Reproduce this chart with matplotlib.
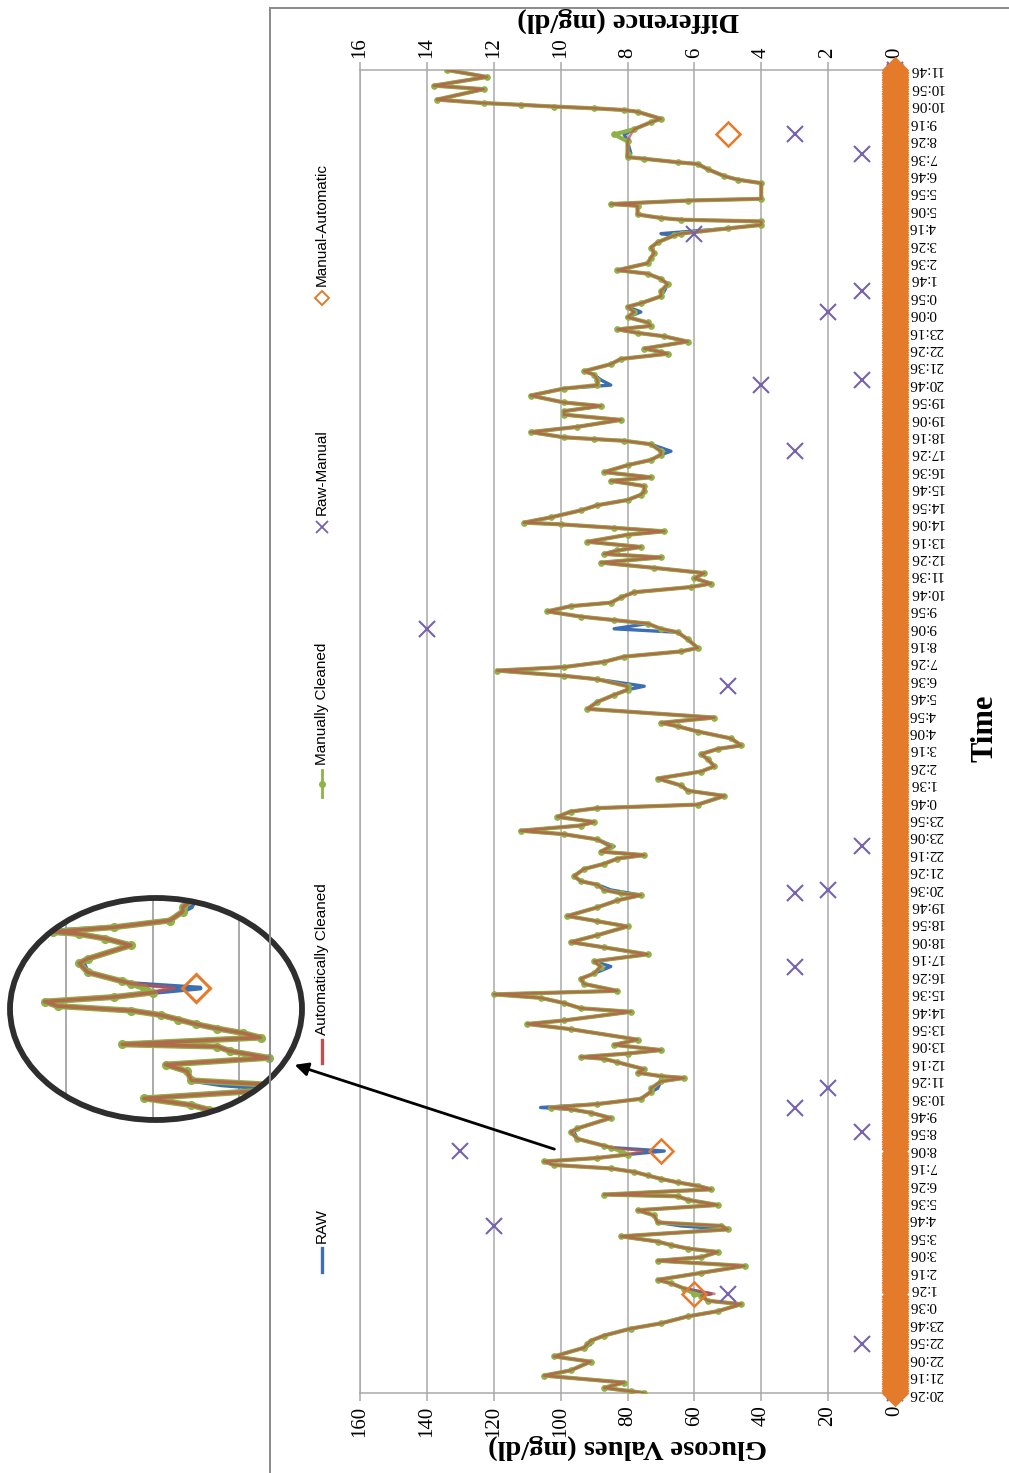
import numpy as np
import matplotlib
matplotlib.use("Agg")
import matplotlib.pyplot as plt
from matplotlib.lines import Line2D
from matplotlib.patches import Ellipse, FancyArrowPatch
from datetime import datetime, timedelta

plt.rcParams['font.family'] = ['Liberation Serif', 'DejaVu Serif']

# ---------------------------------------------------------------------------
# CGM recording (minutes after the first reading at 20:26)
START_CLOCK = (20, 26)
minutes = [
    0, 5, 15, 30, 50, 65, 90, 105, 130, 140, 150, 165, 185, 200, 220, 235,
    255, 265, 280, 285, 300, 315, 325, 345, 365, 380, 390, 405, 415, 425,
    435, 450, 470, 480, 490, 510, 525, 540, 555, 565, 570, 585, 595, 605,
    615, 625, 635, 645, 655, 665, 675, 685, 695, 705, 710, 730, 750, 760,
    790, 805, 815, 820, 830, 845, 865, 875, 895, 905, 910, 920, 930, 950,
    960, 965, 975, 985, 1000, 1015, 1045, 1060, 1070, 1095, 1105, 1120,
    1135, 1145, 1155, 1175, 1190, 1205, 1225, 1240, 1260, 1280, 1295, 1315,
    1340, 1355, 1370, 1395, 1415, 1430, 1435, 1445, 1460, 1470, 1485, 1505,
    1520, 1535, 1545, 1555, 1570, 1590, 1605, 1615, 1630, 1640, 1655, 1670,
    1680, 1690, 1715, 1730, 1745, 1765, 1785, 1800, 1820, 1835, 1850, 1860,
    1880, 1900, 1915, 1925, 1940, 1965, 1985, 2005, 2020, 2030, 2050, 2060,
    2075, 2085, 2100, 2115, 2130, 2140, 2165, 2185, 2195, 2210, 2220, 2230,
    2245, 2260, 2270, 2285, 2300, 2315, 2325, 2340, 2355, 2370, 2385, 2400,
    2410, 2420, 2430, 2445, 2465, 2475, 2485, 2495, 2500, 2515, 2535, 2550,
    2565, 2580, 2590, 2605, 2620, 2630, 2645, 2665, 2680, 2695, 2705, 2725,
    2735, 2740, 2745, 2760, 2775, 2795, 2810, 2820, 2835, 2845, 2865, 2885,
    2895, 2910, 2925, 2935, 2955, 2970, 2985, 2990, 3000, 3020, 3035, 3045,
    3055, 3065, 3075, 3090, 3105, 3120, 3130, 3150, 3165, 3185, 3200, 3215,
    3225, 3245, 3260, 3275, 3290, 3305, 3325, 3330, 3345, 3355, 3365, 3370,
    3375, 3385, 3410, 3415, 3425, 3430, 3475, 3485, 3495, 3515, 3530, 3535,
    3545, 3550, 3560, 3595, 3615, 3630, 3650, 3660, 3680, 3685, 3690, 3695,
    3700, 3705, 3715, 3745, 3755, 3780, 3800,
]
manually_cleaned = [
    75, 79, 87, 81, 105, 97, 91, 102, 93, 92, 91, 87, 79, 70, 62, 53,
    46, 56, 58, 60, 63, 67, 71, 58, 45, 71, 58, 53, 62, 67,
    71, 82, 50, 52, 71, 72, 77, 53, 62, 65, 87, 55, 59, 65,
    70, 74, 78, 85, 102, 105, 89, 80, 82, 85, 87, 95, 97, 95,
    85, 91, 97, 103, 89, 76, 73, 73, 70, 63, 70, 77, 75, 83,
    87, 94, 80, 70, 84, 77, 97, 110, 99, 79, 94, 99,
    106, 120, 83, 93, 94, 90, 88, 90, 74, 87, 97, 89,
    80, 89, 98, 89, 83, 76, 82, 87, 89, 94, 96, 93,
    87, 83, 75, 88, 85, 89, 99, 112, 94, 90, 101, 97,
    89, 59, 51, 62, 64, 71, 58, 54, 56, 58, 53, 46,
    49, 59, 65, 70, 54, 92, 89, 84, 80, 80, 89, 99,
    119, 99, 87, 81, 64, 59, 62, 65, 70, 74, 84, 94,
    104, 97, 85, 82, 78, 61, 55, 60, 57, 72, 88, 70,
    87, 83, 76, 92, 80, 69, 84, 100, 111, 103, 94, 89,
    80, 76, 75, 75, 85, 73, 87, 80, 73, 70, 70, 73,
    81, 90, 99, 109, 95, 82, 99, 99, 88, 99, 109, 99,
    89, 89, 90, 93, 85, 82, 68, 70, 75, 62, 69, 77,
    83, 73, 74, 80, 78, 80, 76, 70, 70, 68, 70, 74,
    83, 74, 73, 72, 73, 71, 66, 64, 50, 40, 40, 64,
    70, 77, 77, 85, 62, 40, 40, 47, 51, 56, 59, 65,
    75, 80, 80, 80, 84, 78, 73, 70, 77, 81, 90, 102,
    112, 123, 137, 123, 138, 122, 134,
]

# readings where the raw sensor value differs from the manual cleaning (raw - manual)
raw_offset_minutes = [140, 285, 480, 695, 750, 820, 875, 1225, 1435, 1445, 1570,
                      2030, 2195, 2705, 2895, 2910, 3105, 3165, 3330, 3560, 3615]
raw_offset_values = [-1, -5, 12, -13, -1, 3, -2, -3, -3, -2, -1,
                     -5, 14, -3, -4, -1, -2, -1, 6, -1, -3]

# readings where the automatic cleaning differs from the manual one (manual - automatic)
auto_offset_minutes = [285, 695, 3615]
auto_offset_values = [6, 7, 5]

SAMPLE_STEP = 5          # sensor reading interval, minutes
LABEL_STEP = 50          # spacing of the time labels, minutes

# ---------------------------------------------------------------------------
t = np.array(minutes, dtype=float)
manual = np.array(manually_cleaned, dtype=float)
assert len(t) == len(manual)

raw = manual.copy()
for m, v in zip(raw_offset_minutes, raw_offset_values):
    raw[t == m] += v
auto = manual.copy()
for m, v in zip(auto_offset_minutes, auto_offset_values):
    auto[t == m] -= v

samples = np.arange(0, t[-1] + 1, SAMPLE_STEP)
raw_manual_diff = np.zeros(len(samples))
for m, v in zip(raw_offset_minutes, raw_offset_values):
    raw_manual_diff[samples == m] = abs(v)
manual_auto_diff = np.zeros(len(samples))
for m, v in zip(auto_offset_minutes, auto_offset_values):
    manual_auto_diff[samples == m] = abs(v)

start = datetime(2000, 1, 1, *START_CLOCK)
tick_minutes = np.arange(0, t[-1] + 1, LABEL_STEP)
tick_labels = []
for m in tick_minutes:
    d = start + timedelta(minutes=int(m))
    tick_labels.append(f"{d.hour}:{d.minute:02d}")

# ---------------------------------------------------------------------------
C_RAW = '#3d6db3'
C_AUTO = '#c0504d'
C_MAN = '#8db346'
C_RM = '#7662ad'
C_MA = '#e37b2b'
C_GRID = '#a9a9a9'

W, H = 1009, 1473
fig = plt.figure(figsize=(W / 100, H / 100), dpi=100)


def fx(x):
    return x / W


def fy(y):
    return 1 - y / H


ax = fig.add_axes([fx(360), fy(1393), fx(895) - fx(360), fy(70) - fy(1393)])


def draw_series(a, scale=1.0):
    a.plot(raw, t, color=C_RAW, lw=2.4 * scale, zorder=2, solid_joinstyle='round')
    a.plot(manual, t, color=C_MAN, lw=3.0 * scale, marker='o', ms=3.8 * scale,
           zorder=3, solid_joinstyle='round')
    a.plot(auto, t, color=C_AUTO, lw=1.8 * scale, alpha=0.72, zorder=4,
           solid_joinstyle='round')


draw_series(ax)
ax.set_xlim(160, 0)
ax.set_ylim(0, t[-1])
ax.set_xticks(np.arange(0, 161, 20))
ax.xaxis.grid(True, color=C_GRID, lw=1.1)
ax.set_axisbelow(True)
ax.tick_params(axis='x', direction='out', length=6, color=C_GRID, width=1.1,
               labelsize=15, labelrotation=90, pad=3)
ax.yaxis.tick_right()
ax.set_yticks(tick_minutes)
ax.set_yticklabels(tick_labels)
ax.tick_params(axis='y', length=0, pad=10, labelsize=11)
for lab in ax.get_yticklabels():
    lab.set_rotation(180)
    lab.set_va('center')
for s in ax.spines.values():
    s.set_color(C_GRID)
    s.set_linewidth(1.1)

# differences on the secondary axis
ax2 = ax.twiny()
ax2.set_xlim(16, 0)
ax2.set_xticks(np.arange(0, 17, 2))
ax2.tick_params(axis='x', direction='out', length=6, color=C_GRID, width=1.1,
                labelsize=15, labelrotation=90, pad=3)
for s in ax2.spines.values():
    s.set_visible(False)
ax2.plot(raw_manual_diff, samples, ls='none', marker='x', color=C_RM, ms=11,
         mew=1.5, clip_on=False, zorder=5)
# the dense run of zero differences merges into a solid band
zero = manual_auto_diff == 0
ax2.plot(manual_auto_diff[zero], samples[zero], ls='none', marker='D', mfc=C_MA,
         mec=C_MA, ms=12, mew=1.8, clip_on=False, zorder=6)
ax2.plot(manual_auto_diff[~zero], samples[~zero], ls='none', marker='D', mfc='none',
         mec=C_MA, ms=12, mew=1.8, clip_on=False, zorder=6)

# axis titles
fig.text(fx(628), fy(1447), 'Glucose Values (mg/dl)', rotation=180, ha='center',
         va='center', fontsize=20.5, fontweight='bold')
fig.text(fx(628), fy(20), 'Difference (mg/dl)', rotation=180, ha='center',
         va='center', fontsize=20.5, fontweight='bold')
fig.text(fx(985), fy(728), 'Time', rotation=90, ha='center', va='center',
         fontsize=22, fontweight='bold')

# legend, laid out along the left edge
LEG_X = fx(322)
legend_font = ['Liberation Sans Narrow', 'Liberation Sans', 'DejaVu Sans']
entries = [
    ('RAW', 1272, 1248, dict(color=C_RAW, lw=2.4), None),
    ('Automatically Cleaned', 1063, 1040, dict(color=C_AUTO, lw=2.4), None),
    ('Manually Cleaned', 797, 770, dict(color=C_MAN, lw=2.0), dict(marker='o', color=C_MAN, ms=4)),
    ('Raw-Manual', 534, 520, None, dict(marker='x', color=C_RM, ms=8, mew=1.3)),
    ('Manual-Automatic', 305, 291, None, dict(marker='D', mfc='none', mec=C_MA, ms=7, mew=1.4)),
]
for label, y0, y1, line_kw, mark_kw in entries:
    if line_kw:
        fig.add_artist(Line2D([LEG_X, LEG_X], [fy(y0), fy(y1)],
                              transform=fig.transFigure, **line_kw))
    if mark_kw:
        fig.add_artist(Line2D([LEG_X], [fy((y0 + y1) / 2)], ls='none',
                              transform=fig.transFigure, **mark_kw))
    fig.text(LEG_X, fy(y1 - 5), label, rotation=90, ha='center', va='bottom',
             fontsize=11, family=legend_font)

# frame around the chart area
fig.add_artist(Line2D([fx(270), fx(270)], [fy(8), 0], transform=fig.transFigure,
                      color='#8a8a8a', lw=1.4))
fig.add_artist(Line2D([fx(270), 1], [fy(8), fy(8)], transform=fig.transFigure,
                      color='#8a8a8a', lw=1.4))

# magnified detail
ins = fig.add_axes([fx(10), fy(1120), fx(302) - fx(10), fy(898) - fy(1120)])
ins.set_xlim(113, 45.4)
ins.set_ylim(402, 895)
ins.axis('off')
clip = Ellipse((0.5, 0.5), 1, 1, transform=ins.transAxes, fc='white', ec='none', zorder=0)
ins.add_patch(clip)
for g in (60, 80, 100):
    ins.axvline(g, color=C_GRID, lw=1.4, zorder=1)
draw_series(ins, scale=1.45)
ins.plot(np.array(auto_offset_values) * 10, auto_offset_minutes, ls='none',
         marker='D', mfc='none', mec=C_MA, ms=14, mew=2.2, zorder=6)
for art in ins.lines:
    art.set_clip_path(clip)
ins.add_patch(Ellipse((0.5, 0.5), 1, 1, transform=ins.transAxes, fc='none',
                      ec='#2e2e2e', lw=4.2, zorder=10, clip_on=False))

# pointer from the detail back to the chart
fig.add_artist(FancyArrowPatch(
    (fx(557), fy(1150)), (fx(292), fy(1064)), transform=fig.transFigure,
    arrowstyle='-|>', mutation_scale=20, color='black', lw=2.0))

fig.savefig('out.png', dpi=100)
